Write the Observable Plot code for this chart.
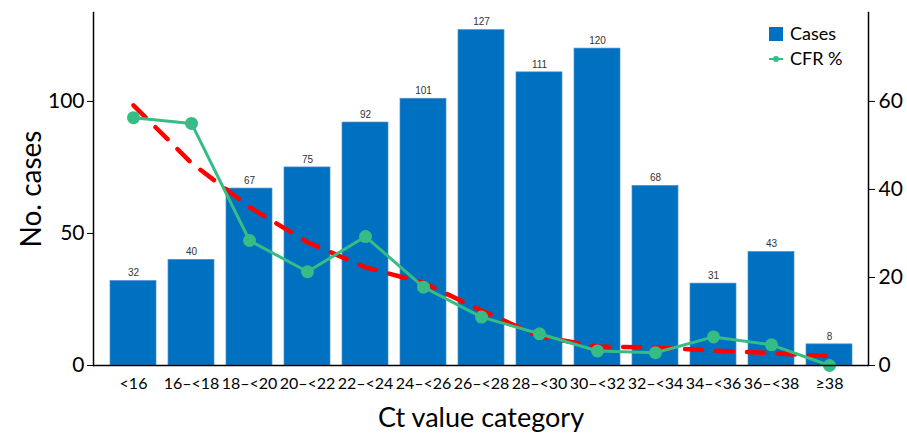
<!DOCTYPE html>
<html>
<head>
<meta charset="utf-8">
<script src="https://cdn.jsdelivr.net/npm/d3@7"></script>
<script src="https://cdn.jsdelivr.net/npm/@observablehq/plot@0.6"></script>
<style>
  html, body { margin: 0; padding: 0; background: #fff; }
  #wrap { position: relative; width: 907px; height: 433px; overflow: hidden; }
  #legend { position: absolute; left: 769px; top: 21px; font-family: Lato, "Open Sans", sans-serif; font-size: 18px; color: #000; line-height: 25px; }
  #legend .row { display: flex; align-items: center; height: 25px; }
  #legend .sw { width: 14px; height: 14px; margin-right: 7px; position: relative; }
</style>
</head>
<body>
<div id="wrap">
  <div id="chart"></div>
  <div id="legend">
    <div class="row"><span class="sw" style="background:#0070c0"></span><span>Cases</span></div>
    <div class="row"><svg class="sw" width="14" height="14"><line x1="0" y1="7" x2="14" y2="7" stroke="#35bd85" stroke-width="2"/><circle cx="7" cy="7" r="3" fill="#35bd85"/></svg><span>CFR %</span></div>
  </div>
</div>
<script>
const categories = ["<16", "16\u2013<18", "18\u2013<20", "20\u2013<22", "22\u2013<24", "24\u2013<26", "26\u2013<28", "28\u2013<30", "30\u2013<32", "32\u2013<34", "34\u2013<36", "36\u2013<38", "\u226538"];
const cases = [32, 40, 67, 75, 92, 101, 127, 111, 120, 68, 31, 43, 8];
const cfr = [56.3, 55.0, 28.4, 21.3, 29.3, 17.8, 11.0, 7.2, 3.3, 2.9, 6.5, 4.7, 0];
const trend = [59.1, 46.0, 36.0, 28.0, 22.3, 18.8, 12.5, 6.6, 4.3, 4.1, 3.4, 2.8, 2.1];
const caseTicks = [0, 50, 100];
const cfrTicks = [0, 20, 40, 60];

const K = 100 / 60; // CFR % -> cases scale (60 % aligns with 100 cases)
const rows = categories.map((c, i) => ({cat: c, cases: cases[i], cfr: cfr[i], trend: trend[i]}));

const font = "Lato, 'Open Sans', sans-serif";

const chart = Plot.plot({
  width: 907,
  height: 433,
  marginLeft: 93,
  marginRight: 39,
  marginTop: 12,
  marginBottom: 68,
  style: {fontFamily: font, color: "#000", background: "#fff", overflow: "visible"},
  x: {domain: categories, paddingInner: 0.21, paddingOuter: 0.25},
  y: {domain: [0, 80.2 * K]},
  marks: [
    Plot.barY(rows, {x: "cat", y: "cases", fill: "#0070c0", stroke: "#4f8fcf", strokeWidth: 0.7}),
    Plot.text(rows, {x: "cat", y: "cases", text: d => String(d.cases), dy: -8, fontSize: 10, fill: "#333", fontFamily: "'Liberation Sans', Arial, sans-serif"}),
    Plot.line(rows, {x: "cat", y: d => d.trend * K, stroke: "#ff0000", strokeWidth: 4.5, strokeDasharray: "17,14"}),
    Plot.line(rows, {x: "cat", y: d => d.cfr * K, stroke: "#35bd85", strokeWidth: 3}),
    Plot.dot(rows, {x: "cat", y: d => d.cfr * K, r: 6.5, fill: "#35bd85"}),
    Plot.ruleY([0], {stroke: "#000", strokeWidth: 1.5}),
    Plot.frame({anchor: "left", stroke: "#000", strokeWidth: 1.5}),
    Plot.frame({anchor: "right", stroke: "#000", strokeWidth: 1.5}),
    Plot.axisY({ticks: caseTicks, tickSize: 6, tickPadding: 3, fontSize: 21, label: null, anchor: "left"}),
    Plot.axisY({ticks: [], tickSize: 0, label: "No. cases", labelArrow: "none", labelAnchor: "center", labelOffset: 72, fontSize: 28, anchor: "left"}),
    Plot.axisY({ticks: cfrTicks.map(v => v * K), tickFormat: d => String(Math.round(d / K)), tickSize: 6, tickPadding: 4, fontSize: 21, label: null, anchor: "right"}),
    Plot.axisX({tickSize: 0, tickPadding: 12, fontSize: 16, label: null}),
    Plot.axisX({ticks: [], tickSize: 0, label: "Ct value category", labelArrow: "none", labelAnchor: "center", labelOffset: 61, fontSize: 27})
  ]
});
document.getElementById("chart").appendChild(chart);
</script>
</body>
</html>
